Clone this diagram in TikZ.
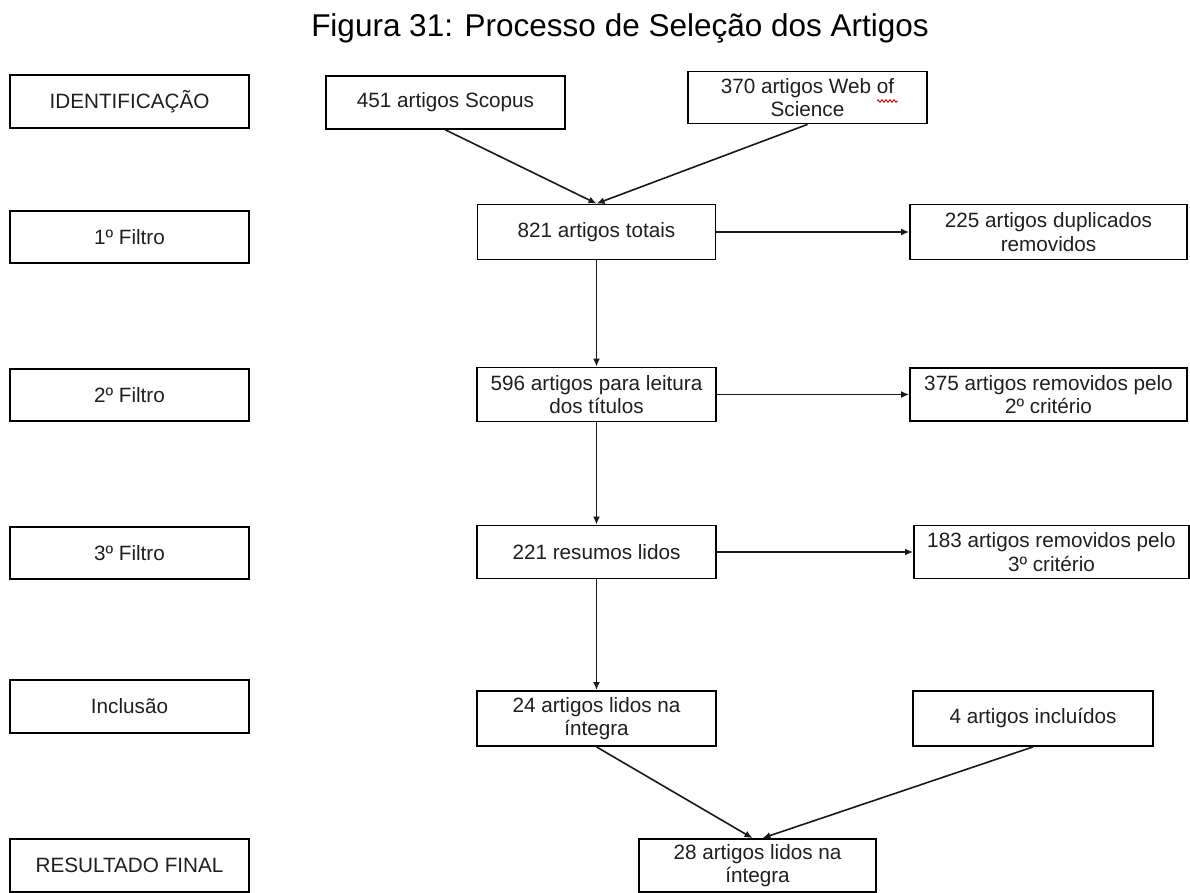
\documentclass[tikz,border=0pt]{standalone}
\usepackage{fontspec}
\setmainfont{Liberation Sans}
\usetikzlibrary{arrows.meta,calc,decorations.pathmorphing}

\tikzset{
  box/.style={draw=black, line width=1.8pt, fill=white, inner sep=0pt,
    align=center, text=black!88,
    font=\fontsize{20.7}{23.3}\selectfont},
  flow/.style={draw=black!90, line width=1.6pt,
    -{Latex[length=8pt,width=7pt]}},
}

\begin{document}
\begin{tikzpicture}[x=1pt,y=-1pt]
\useasboundingbox (0,0) rectangle (1190,893);
\fill[white] (0,0) rectangle (1190,893);

% title
\node[font=\fontsize{31.5}{34}\selectfont, text=black] (title) at (620,28)
  {Figura 31: Processo de Seleção dos Artigos};

% stage labels (left column)
\node[box, minimum width=239, minimum height=53] (sId)  at (129.5,101.5) {IDENTIFICAÇÃO};
\node[box, minimum width=239, minimum height=52] (sF1)  at (129.5,237)   {1º Filtro};
\node[box, minimum width=239, minimum height=52] (sF2)  at (129.5,395)   {2º Filtro};
\node[box, minimum width=239, minimum height=52] (sF3)  at (129.5,553)   {3º Filtro};
\node[box, minimum width=239, minimum height=53] (sInc) at (129.5,706.5) {Inclusão};
\node[box, minimum width=239, minimum height=53] (sRes) at (129.5,865.5) {RESULTADO FINAL};

% sources
\node[box, minimum width=239, minimum height=53] (scopus) at (445.5,102.5) {451 artigos Scopus};
\node[box, minimum width=239, minimum height=52] (wos)    at (807.5,97.5)  {370 artigos Web of\\Science};

% main flow
\node[box, minimum width=238, minimum height=55] (total)  at (596.5,232)   {821 artigos totais};
\node[box, minimum width=239, minimum height=54] (titles) at (596.5,394.5) {596 artigos para leitura\\dos títulos};
\node[box, minimum width=239, minimum height=53] (abstr)  at (596.5,552)   {221 resumos lidos};
\node[box, minimum width=239, minimum height=55] (full)   at (596.5,718.5) {24 artigos lidos na\\íntegra};
\node[box, minimum width=237, minimum height=53] (final)  at (757.5,865.5) {28 artigos lidos na\\íntegra};

% removed / added
\node[box, minimum width=277, minimum height=55] (dup)   at (1048.5,232)   {225 artigos duplicados\\removidos};
\node[box, minimum width=277, minimum height=53] (rem2)  at (1048.5,394.5) {375 artigos removidos pelo\\2º critério};
\node[box, minimum width=275, minimum height=53] (rem3)  at (1051.5,552)   {183 artigos removidos pelo\\3º critério};
\node[box, minimum width=240, minimum height=55] (added) at (1033,718.5)   {4 artigos incluídos};

% spell-check mark under "of"
\draw[red!85!black, line width=0.9pt,
  decorate, decoration={zigzag, segment length=4pt, amplitude=1.3pt}]
  (877,101) -- (898,101);

% connectors
\draw[flow] (scopus.south) -- (total.north);
\draw[flow] (wos.south) -- (total.north);
\draw[flow] (total.east) -- (dup.west);
\draw[flow] (total.south) -- (titles.north);
\draw[flow] (titles.east) -- (rem2.west);
\draw[flow] (titles.south) -- (abstr.north);
\draw[flow] (abstr.east) -- (rem3.west);
\draw[flow] (abstr.south) -- (full.north);
\draw[flow] (full.south) -- ($(final.north)+(-5,0)$);
\draw[flow] (added.south) -- ($(final.north)+(5,0)$);
\end{tikzpicture}
\end{document}
